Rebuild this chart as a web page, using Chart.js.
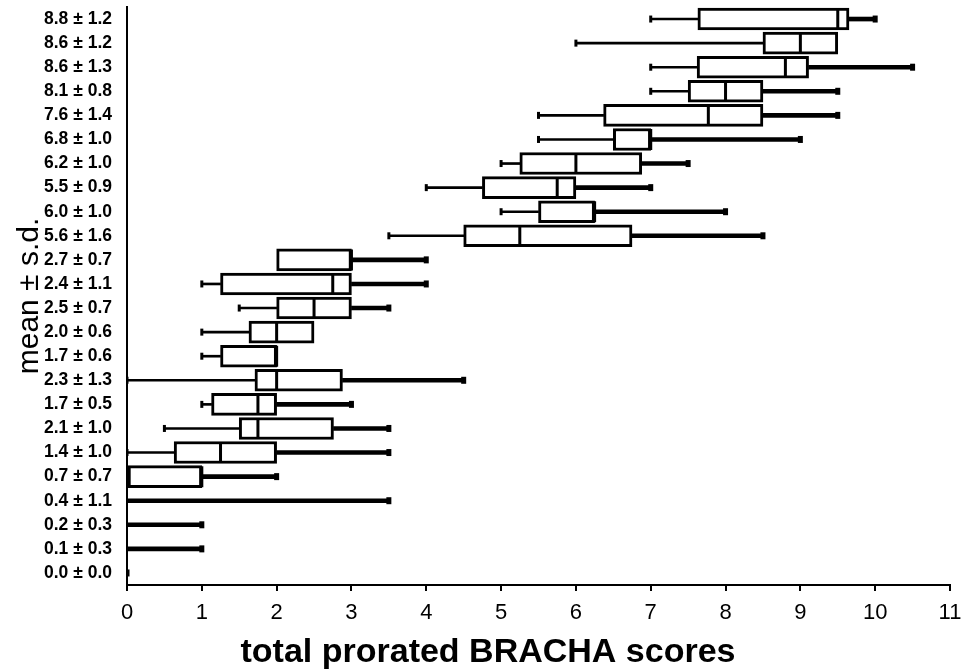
<!DOCTYPE html>
<html>
<head>
<meta charset="utf-8">
<script src="https://cdn.jsdelivr.net/npm/chart.js@4/dist/chart.umd.min.js"></script>
<style>
  html, body { margin: 0; padding: 0; background: #fff; }
  #wrap { width: 963px; height: 670px; }
</style>
</head>
<body>
<div id="wrap"><canvas id="c" width="963" height="670"></canvas></div>
<script>
// Category labels (mean ± s.d.), top to bottom
const labels = [
  '8.8 ± 1.2', '8.6 ± 1.2', '8.6 ± 1.3', '8.1 ± 0.8', '7.6 ± 1.4', '6.8 ± 1.0',
  '6.2 ± 1.0', '5.5 ± 0.9', '6.0 ± 1.0', '5.6 ± 1.6', '2.7 ± 0.7', '2.4 ± 1.1',
  '2.5 ± 0.7', '2.0 ± 0.6', '1.7 ± 0.6', '2.3 ± 1.3', '1.7 ± 0.5', '2.1 ± 1.0',
  '1.4 ± 1.0', '0.7 ± 0.7', '0.4 ± 1.1', '0.2 ± 0.3', '0.1 ± 0.3', '0.0 ± 0.0'
];
// Box-plot statistics
const mins    = [7.0, 6.0, 7.0, 7.0, 5.5, 5.5, 5.0, 4.0, 5.0, 3.5, 2.0, 1.0, 1.5, 1.0, 1.0, 0.0, 1.0, 0.5, 0.0, 0.0, 0.0, 0.0, 0.0, 0.0];
const q1s     = [7.63, 8.5, 7.62, 7.5, 6.37, 6.5, 5.25, 4.75, 5.5, 4.5, 2.0, 1.25, 2.0, 1.63, 1.25, 1.71, 1.13, 1.5, 0.63, 0.0, 0.0, 0.0, 0.0, 0.0];
const medians = [9.5, 9.0, 8.8, 8.0, 7.77, 7.0, 6.0, 5.75, 6.25, 5.25, 3.0, 2.75, 2.5, 2.0, 2.0, 2.0, 1.75, 1.75, 1.25, 1.0, 0.0, 0.0, 0.0, 0.0];
const q3s     = [9.65, 9.5, 9.11, 8.5, 8.5, 7.0, 6.88, 6.0, 6.25, 6.75, 3.0, 3.0, 3.0, 2.5, 2.0, 2.88, 2.0, 2.76, 2.0, 1.0, 0.0, 0.0, 0.0, 0.0];
const maxs    = [10.0, 9.5, 10.5, 9.5, 9.5, 9.0, 7.5, 7.0, 8.0, 8.5, 4.0, 4.0, 3.5, 2.5, 2.0, 4.5, 3.0, 3.5, 3.5, 2.0, 3.5, 1.0, 1.0, 0.0];
// Axis
const xTicks = [0, 1, 2, 3, 4, 5, 6, 7, 8, 9, 10, 11];
const xTitle = 'total prorated BRACHA scores';
const yTitle = 'mean ± s.d.';

const FONT = "'Liberation Sans', Arial, Helvetica, sans-serif";

const lowWhisker  = labels.map((_, i) => mins[i] < q1s[i] ? [mins[i], q1s[i]] : null);
const highWhisker = labels.map((_, i) => maxs[i] > q3s[i] ? [q3s[i], maxs[i]] : null);
const boxes       = labels.map((_, i) => q3s[i] > q1s[i] ? [q1s[i], q3s[i]] : null);
const medianPts   = labels.map((_, i) => q3s[i] > q1s[i] ? medians[i] : null);
const lowCaps     = labels.map((_, i) => mins[i] < q1s[i] ? mins[i] : null);
const highCaps    = labels.map((_, i) => (maxs[i] > q3s[i] || maxs[i] === mins[i]) ? maxs[i] : null);

const capBase = { type: 'line', indexAxis: 'y', showLine: false, pointStyle: 'line', pointRotation: 90,
                  borderColor: '#000', backgroundColor: '#000', order: 2 };

new Chart(document.getElementById('c'), {
  type: 'bar',
  data: {
    labels: labels,
    datasets: [
      { label: 'median', ...capBase, data: medianPts, pointRadius: 10.5, borderWidth: 3, order: 0 },
      { label: 'box', data: boxes, backgroundColor: '#fff', borderColor: '#000', borderWidth: 3,
        borderSkipped: false, barThickness: 22, grouped: false, order: 1 },
      { label: 'low whisker', data: lowWhisker, backgroundColor: '#000', borderWidth: 0,
        barThickness: 2, grouped: false, order: 3 },
      { label: 'high whisker', data: highWhisker, backgroundColor: '#000', borderWidth: 0,
        barThickness: 4, grouped: false, order: 3 },
      { label: 'low cap', ...capBase, data: lowCaps, pointRadius: 3.5, borderWidth: 3 },
      { label: 'high cap', ...capBase, data: highCaps, pointRadius: 3.5, borderWidth: 5 }
    ]
  },
  options: {
    indexAxis: 'y',
    responsive: false,
    animation: false,
    events: [],
    layout: { autoPadding: false, padding: { top: 7, right: 0, bottom: 0, left: 13 } },
    plugins: {
      legend: { display: false },
      tooltip: { enabled: false },
      title: { display: true, position: 'bottom', text: xTitle, color: '#000', align: 'center',
               font: { family: FONT, size: 34, weight: 'bold', lineHeight: 1 },
               padding: { top: 0, bottom: 0 } }
    },
    scales: {
      x: {
        type: 'linear', min: 0, max: 11,
        afterBuildTicks: (s) => { s.ticks = xTicks.map(v => ({ value: v })); },
        afterFit: (s) => { s.height = 51; s.paddingLeft = 0; s.paddingRight = 13; },
        grid: { drawOnChartArea: false, drawTicks: true, tickLength: 6, color: '#000', lineWidth: 2 },
        border: { display: true, color: '#000', width: 2 },
        ticks: { color: '#000', padding: 9, font: { family: FONT, size: 22 } }
      },
      y: {
        type: 'category', offset: true,
        afterFit: (s) => { s.width = 114; s.paddingTop = 0; s.paddingBottom = 0; },
        grid: { display: false, drawTicks: false },
        border: { display: true, color: '#000', width: 2 },
        ticks: { color: '#000', padding: 15, autoSkip: false,
                 font: { family: FONT, size: 17.5, weight: 'bold' } },
        title: { display: true, text: yTitle, color: '#000',
                 font: { family: FONT, size: 30, lineHeight: 1.2 },
                 padding: { top: -1, bottom: 0 } }
      }
    }
  }
});
</script>
</body>
</html>
